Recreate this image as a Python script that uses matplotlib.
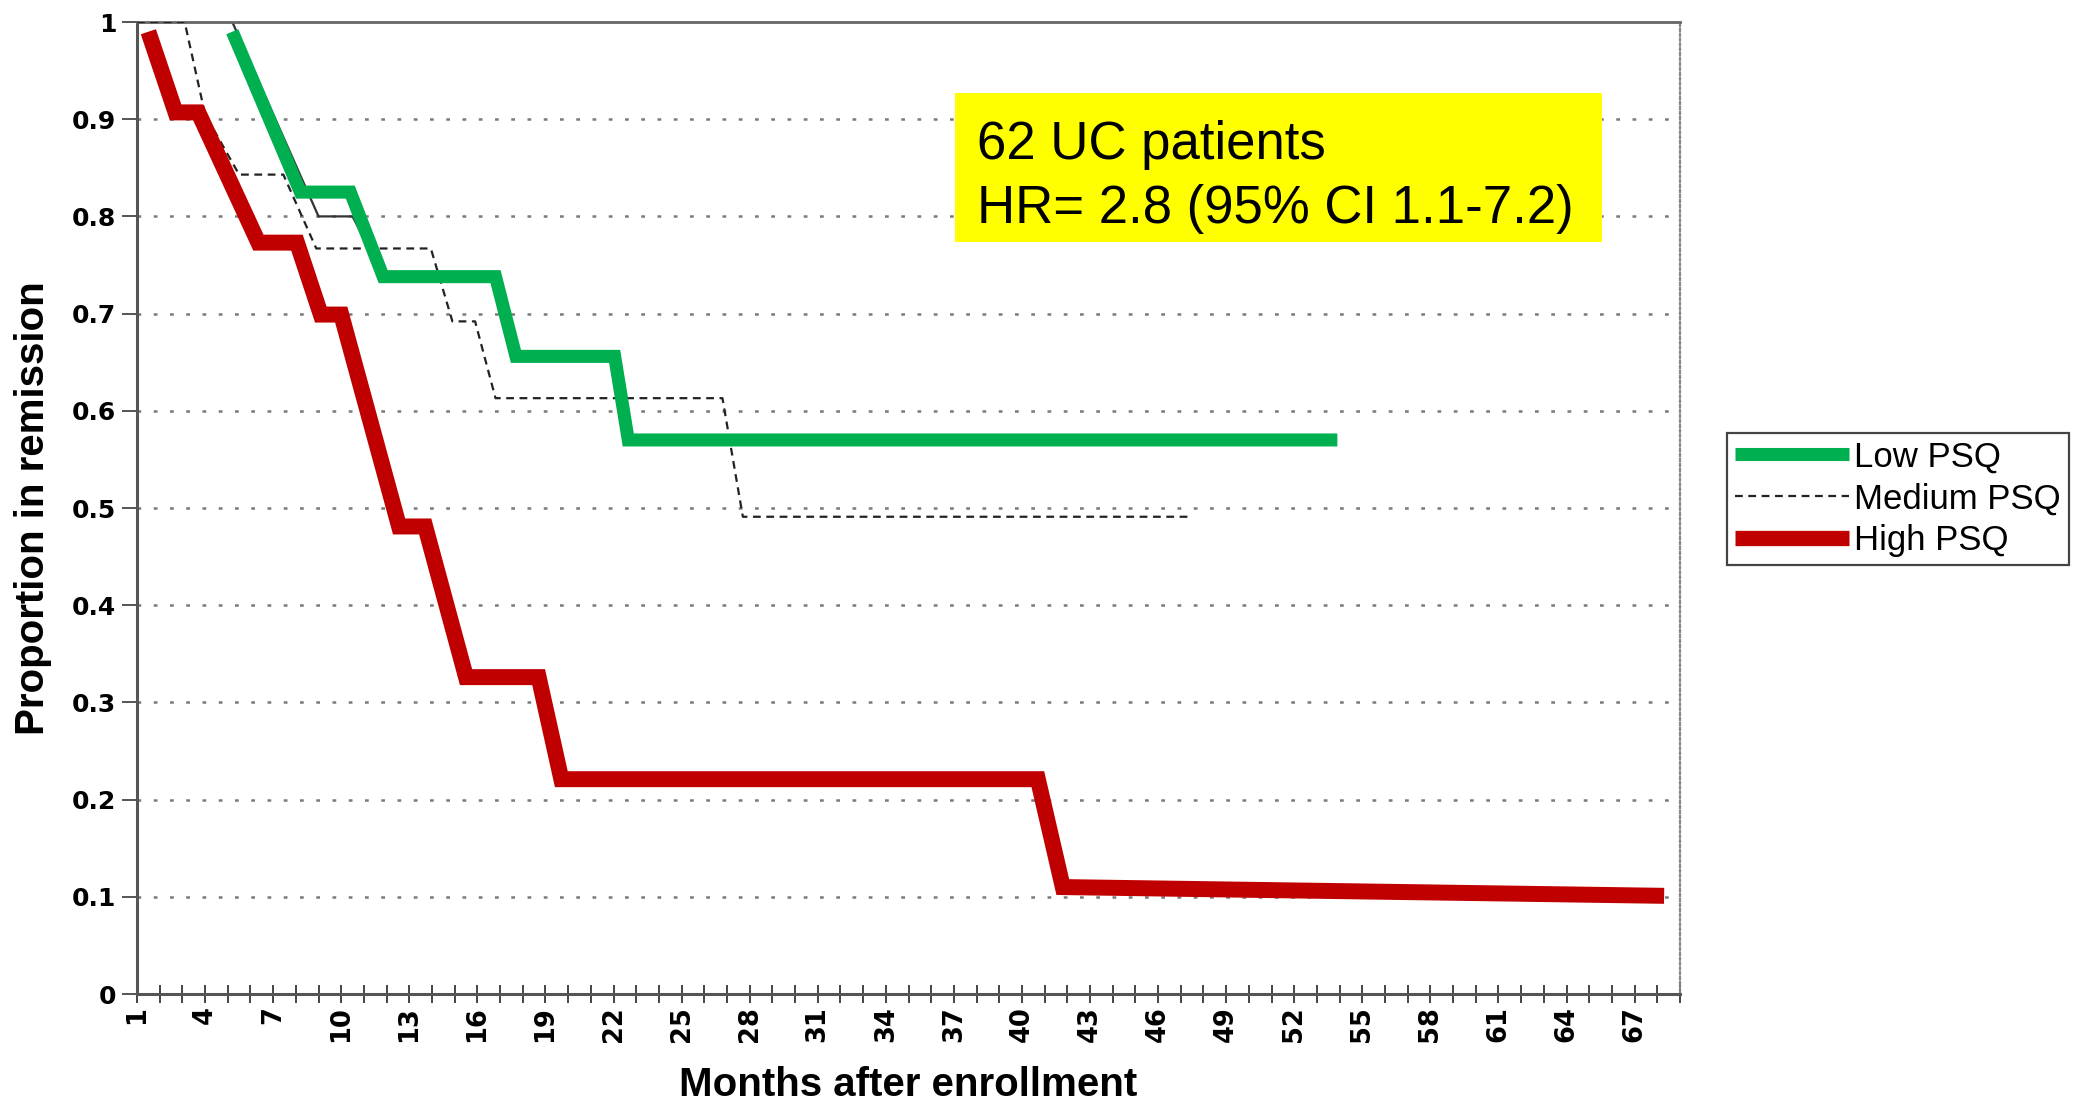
import matplotlib
matplotlib.use("Agg")
import matplotlib.pyplot as plt
from matplotlib.patches import Rectangle
from matplotlib.lines import Line2D

# ---- data ----
low_months = [5.2, 8.2, 10.4, 11.85, 16.8, 17.7, 22.05, 22.65, 53.9]
low_values = [0.99, 0.825, 0.825, 0.738, 0.738, 0.656, 0.656, 0.570, 0.570]

med_months = [1, 3.1, 4.0, 5.5, 7.45, 8.9, 13.95, 14.9, 15.9, 16.8, 26.8, 27.7, 47.5]
med_values = [1.0, 1.0, 0.905, 0.843, 0.843, 0.767, 0.767, 0.692, 0.692, 0.613, 0.613, 0.491, 0.491]

high_months = [1.5, 2.7, 3.7, 6.35, 8.05, 9.1, 10.0, 12.55, 13.7, 15.5, 18.7, 19.7, 40.7, 41.8, 68.3]
high_values = [0.99, 0.907, 0.907, 0.773, 0.773, 0.699, 0.699, 0.481, 0.481, 0.326, 0.326, 0.221, 0.221, 0.110, 0.101]

# original thin black "low" curve visible under the green overlay
orig_low_months = [1, 5.2, 9.0, 10.5, 11.85]
orig_low_values = [1.0, 1.0, 0.80, 0.80, 0.738]

x_tick_labels = [str(m) for m in range(1, 68, 3)]
y_ticks = [0, 0.1, 0.2, 0.3, 0.4, 0.5, 0.6, 0.7, 0.8, 0.9, 1.0]
y_tick_labels = ["0", "0.1", "0.2", "0.3", "0.4", "0.5", "0.6", "0.7", "0.8", "0.9", "1"]
series_names = ["Low PSQ", "Medium PSQ", "High PSQ"]
box_lines = ["62 UC patients", "HR= 2.8 (95% CI 1.1-7.2)"]

GREEN = "#00B050"
RED = "#C00000"
ARIAL = ["Liberation Sans", "DejaVu Sans"]

W, H = 2078, 1104
fig = plt.figure(figsize=(W / 100, H / 100), dpi=100)
fig.patch.set_facecolor("white")

L, R, T, B = 137, 1680, 22, 994
ax = fig.add_axes([L / W, 1 - B / H, (R - L) / W, (B - T) / H])
ax.set_xlim(1, 69)
ax.set_ylim(0, 1)

# gridlines
for v in y_ticks[1:-1]:
    ax.axhline(v, color="#7a7a7a", lw=1.8, linestyle=(0, (1.5, 5.0)), zorder=1)

# curves
ax.plot(orig_low_months, orig_low_values, color="#333333", lw=1.6, zorder=2)
ax.plot(med_months, med_values, color="#222222", lw=1.6, linestyle=(0, (3.5, 2.5)), zorder=3)
ax.plot(low_months, low_values, color=GREEN, lw=9.4, solid_joinstyle="miter",
        solid_capstyle="butt", zorder=4)
ax.plot(high_months, high_values, color=RED, lw=11.5, solid_joinstyle="miter",
        solid_capstyle="butt", zorder=5)

# axes styling
for s in ["left", "bottom"]:
    ax.spines[s].set_color("#555555")
    ax.spines[s].set_linewidth(2.2)
ax.spines["top"].set_color("#666666")
ax.spines["top"].set_linewidth(2.0)
ax.spines["right"].set_color("#888888")
ax.spines["right"].set_linewidth(1.6)
ax.spines["right"].set_linestyle((0, (1, 1.2)))

ax.set_xticks(range(1, 70), minor=True)
ax.set_xticks(range(1, 68, 3))
ax.set_xticklabels(x_tick_labels, rotation=90, fontsize=18.5, fontweight="bold",
                   family="DejaVu Sans")
ax.tick_params(axis="x", which="both", direction="inout", length=13, width=1.4,
               color="#444444", pad=2)
ax.set_yticks(y_ticks)
ax.set_yticklabels(y_tick_labels, fontsize=18, fontweight="bold", family="DejaVu Sans")
ax.tick_params(axis="y", direction="out", length=11, width=1.4, color="#555555", pad=4)

ax.set_xlabel("Months after enrollment", fontsize=29, fontweight="bold",
              family=ARIAL, va="center")
ax.xaxis.set_label_coords(0.5, (B - 1085) / (B - T))
ax.set_ylabel("Proportion in remission", fontsize=29, fontweight="bold",
              family=ARIAL, va="center")
ax.yaxis.set_label_coords((33 - L) / (R - L), 0.5)

# yellow annotation box
box = Rectangle((955 / W, 1 - 242 / H), 647 / W, 149 / H, transform=fig.transFigure,
                facecolor="#FFFF00", edgecolor="none", zorder=10)
fig.add_artist(box)
fig.text(977 / W, 1 - 159 / H, box_lines[0], fontsize=38, family=ARIAL,
         va="baseline", ha="left", zorder=11)
fig.text(977 / W, 1 - 222.6 / H, box_lines[1], fontsize=38, family=ARIAL,
         va="baseline", ha="left", zorder=11)

# legend
handles = [
    Line2D([], [], color=GREEN, lw=9.4, solid_capstyle="butt"),
    Line2D([], [], color="#222222", lw=1.6, linestyle=(0, (3.5, 2.5))),
    Line2D([], [], color=RED, lw=11, solid_capstyle="butt"),
]
leg = fig.legend(handles, series_names, loc="upper left",
                 bbox_to_anchor=(1727 / W, 1 - 433 / H), borderaxespad=0,
                 fancybox=False, framealpha=1, edgecolor="#444444",
                 prop={"family": ARIAL, "size": 25}, handlelength=3.3,
                 handletextpad=0.15, labelspacing=0.25, borderpad=0.22)
leg.get_frame().set_linewidth(1.6)

fig.savefig("out.png", dpi=100)
